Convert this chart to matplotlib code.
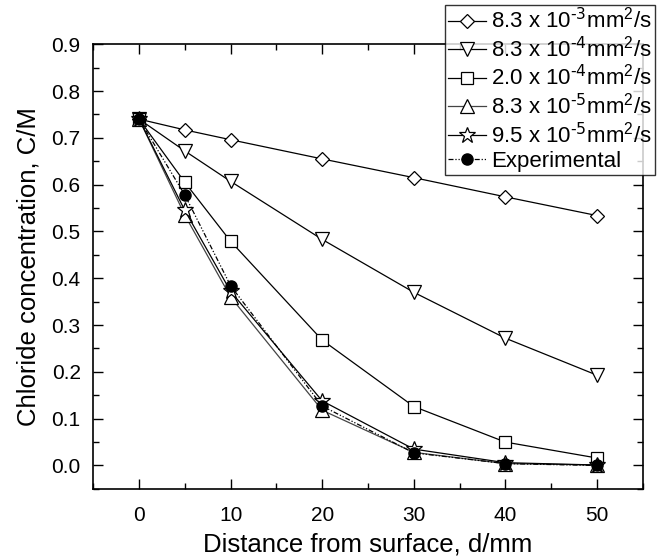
import numpy as np
import matplotlib.pyplot as plt

plt.rcParams['font.family'] = ['Liberation Sans', 'DejaVu Sans']
plt.rcParams['mathtext.default'] = 'regular'

# distancia desde la superficie (mm)
depth = [0, 5, 10, 20, 30, 40, 50]

# perfiles de cloruro para cada coeficiente de difusion
d_83e3 = [0.740, 0.717, 0.696, 0.655, 0.615, 0.574, 0.534]
d_83e4 = [0.740, 0.672, 0.607, 0.483, 0.370, 0.272, 0.193]
d_20e4 = [0.740, 0.605, 0.479, 0.268, 0.126, 0.050, 0.016]
d_83e5 = [0.740, 0.535, 0.360, 0.118, 0.028, 0.004, 0.001]
d_95e5 = [0.740, 0.545, 0.372, 0.138, 0.035, 0.006, 0.001]
experimental = [0.740, 0.578, 0.384, 0.127, 0.027, 0.004, 0.000]

labels = [r'8.3 x 10$^{\text{-3}}$mm$^{2}$/s',
          r'8.3 x 10$^{\text{-4}}$mm$^{2}$/s',
          r'2.0 x 10$^{\text{-4}}$mm$^{2}$/s',
          r'8.3 x 10$^{\text{-5}}$mm$^{2}$/s',
          r'9.5 x 10$^{\text{-5}}$mm$^{2}$/s',
          'Experimental']

fig = plt.figure(figsize=(6.66, 5.6), dpi=100)
ax = fig.add_axes([0.14, 0.127, 0.825, 0.794])

# series simuladas: marcadores huecos
ax.plot(depth, d_83e3, '-', color='black', lw=0.9, marker='D', ms=7.5,
        mfc='white', mec='black', mew=0.9, label=labels[0])
ax.plot(depth, d_83e4, '-', color='black', lw=0.9, marker='v', ms=9.5,
        mfc='white', mec='black', mew=0.9, label=labels[1])
ax.plot(depth, d_20e4, '-', color='black', lw=0.9, marker='s', ms=8,
        mfc='white', mec='black', mew=0.9, label=labels[2])
ax.plot(depth, d_83e5, '-', color='#444444', lw=0.9, marker='^', ms=9.5,
        mfc='white', mec='black', mew=0.9, label=labels[3])
ax.plot(depth, d_95e5, '-', color='black', lw=0.9, marker='*', ms=12,
        mfc='white', mec='black', mew=0.9, label=labels[4])
# experimental: circulos rellenos con linea raya-punto-punto
ax.plot(depth, experimental, color='black', lw=0.9,
        dashes=[4, 1.5, 1, 1.5, 1, 1.5], marker='o', ms=8,
        mfc='black', mec='black', label=labels[5])

ax.set_xlim(-5, 55)
ax.set_ylim(-0.05, 0.9)
ax.set_xticks(np.arange(0, 51, 10))
ax.set_xticks(np.arange(-5, 56, 5), minor=True)
ax.set_yticks(np.arange(0, 0.91, 0.1))
ax.set_yticks(np.arange(-0.05, 0.91, 0.05), minor=True)
ax.yaxis.set_major_formatter(plt.FormatStrFormatter('%.1f'))
ax.tick_params(which='both', direction='in', top=True, right=True,
               labelsize=15, width=1)
ax.tick_params(which='major', length=7)
ax.tick_params(which='minor', length=4)
ax.tick_params(axis='x', pad=12)
ax.tick_params(axis='y', pad=9)
for s in ax.spines.values():
    s.set_linewidth(1.2)

ax.set_xlabel('Distance from surface, d/mm', fontsize=18.5, labelpad=6)
ax.set_ylabel('Chloride concentration, C/M', fontsize=18.5, labelpad=8)

leg = fig.legend(loc='upper right', bbox_to_anchor=(0.984, 0.991),
                 fontsize=16, frameon=True, fancybox=False,
                 edgecolor='black', handlelength=1.7, handletextpad=0.25,
                 labelspacing=0.15, borderpad=0.15, borderaxespad=0)
leg.get_frame().set_linewidth(1)

plt.savefig('out.png', dpi=100)
